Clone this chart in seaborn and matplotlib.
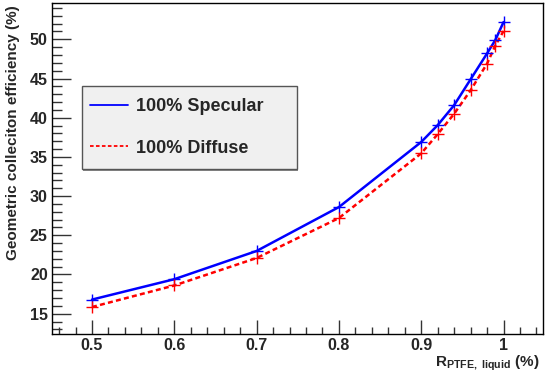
import pandas as pd
import matplotlib
matplotlib.use("Agg")
import matplotlib.pyplot as plt
import seaborn as sns
from matplotlib.ticker import MultipleLocator
from matplotlib.lines import Line2D
from matplotlib.patches import Rectangle

# reflectivity of PTFE in liquid
r_ptfe = [0.5, 0.6, 0.7, 0.8, 0.9, 0.92, 0.94, 0.96, 0.98, 0.99, 1.0]
specular = [16.8, 19.4, 23.0, 28.6, 36.9, 39.05, 41.6, 44.9, 48.2, 49.9, 52.2]
diffuse = [15.85, 18.6, 22.1, 27.2, 35.45, 37.9, 40.5, 43.5, 46.9, 49.2, 51.05]
labels = ["100% Specular", "100% Diffuse"]
x_ticks = [0.5, 0.6, 0.7, 0.8, 0.9, 1.0]
x_ticklabels = ["0.5", "0.6", "0.7", "0.8", "0.9", "1"]

sns.set_style("ticks")
plt.rcParams["font.family"] = ["Liberation Sans", "DejaVu Sans"]
plt.rcParams["font.weight"] = "bold"
plt.rcParams["mathtext.fontset"] = "custom"
plt.rcParams["mathtext.rm"] = "Liberation Sans:bold"
plt.rcParams["mathtext.it"] = "Liberation Sans:bold"
plt.rcParams["mathtext.bf"] = "Liberation Sans:bold"

df = pd.DataFrame({"r": r_ptfe * 2,
                   "eff": specular + diffuse,
                   "model": [labels[0]] * len(r_ptfe) + [labels[1]] * len(r_ptfe)})
colors = {labels[0]: "#0000ff", labels[1]: "#ff0000"}

fig = plt.figure(figsize=(5.45, 3.75), dpi=100)
ax = fig.add_axes([0.0954, 0.1085, 0.901, 0.8843])

sns.lineplot(data=df, x="r", y="eff", hue="model", style="model",
             palette=colors, dashes={labels[0]: "", labels[1]: (2, 1.3)},
             linewidth=1.8, ax=ax, legend=False)
sns.scatterplot(data=df, x="r", y="eff", hue="model", palette=colors,
                marker="+", s=75, linewidth=1.0, ax=ax, legend=False, zorder=3)

ax.set_xlim(0.4514, 1.048)
ax.set_ylim(12.37, 54.67)
ax.xaxis.set_minor_locator(MultipleLocator(0.02))
ax.yaxis.set_major_locator(MultipleLocator(5))
ax.yaxis.set_minor_locator(MultipleLocator(1))
ax.set_xticks(x_ticks)
ax.set_xticklabels(x_ticklabels)
ax.tick_params(axis="both", which="both", direction="in", labelsize=11.5,
               width=1.0, color="#333333")
ax.tick_params(axis="x", which="major", length=10, pad=3)
ax.tick_params(axis="x", which="minor", length=5)
ax.tick_params(axis="y", which="major", length=14, pad=3)
ax.tick_params(axis="y", which="minor", length=7.5)
for s in ax.spines.values():
    s.set_linewidth(1.0)
    s.set_color("black")

ax.set_xlabel(r"$\mathrm{R}_{\mathrm{PTFE,\ liquid}}$ (%)", fontsize=11,
              fontweight="bold", ha="right", va="top")
ax.xaxis.set_label_coords(0.993, -0.057)
ax.set_ylabel("Geometric colleciton efficiency (%)", fontsize=11,
              fontweight="bold", ha="right")
ax.yaxis.set_label_coords(-0.066, 0.993)

# legend box, ROOT TLegend style with a small shadow
box = (0.061, 0.4985, 0.438, 0.2505)
ax.add_patch(Rectangle((box[0] + 0.003, box[1] - 0.005), box[2], box[3],
                       transform=ax.transAxes, facecolor="#888888",
                       edgecolor="none", zorder=4))
ax.add_patch(Rectangle((box[0], box[1]), box[2], box[3],
                       transform=ax.transAxes, facecolor="#f0f0f0",
                       edgecolor="#555555", linewidth=1.0, zorder=5))
handles = [Line2D([], [], color="#0000ff", lw=1.3),
           Line2D([], [], color="#ff0000", lw=1.3, ls=(0, (2, 1.3)))]
leg = ax.legend(handles, labels, loc="center left",
                bbox_to_anchor=(box[0], box[1], box[2], box[3]),
                frameon=False, prop={"weight": "bold", "size": 13},
                handlelength=2.1, handletextpad=0.45, labelspacing=1.35,
                borderpad=0.0, borderaxespad=0.45)
leg.set_zorder(6)

fig.savefig("out.png", dpi=100)
